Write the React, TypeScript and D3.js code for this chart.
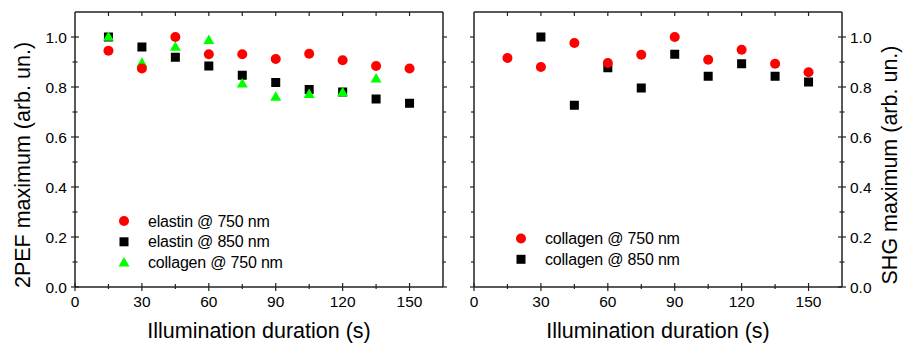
import * as d3 from "d3";

// Illumination time points (s)
const times = [15, 30, 45, 60, 75, 90, 105, 120, 135, 150];

// Left panel: 2PEF maximum
const elastin750 = [0.945, 0.874, 1.0, 0.931, 0.931, 0.912, 0.933, 0.907, 0.884, 0.874];
const elastin850 = [1.0, 0.96, 0.919, 0.884, 0.847, 0.818, 0.79, 0.78, 0.752, 0.735];
const collagen750Pef = [1.0, 0.896, 0.96, 0.987, 0.813, 0.76, 0.771, 0.778, 0.833, null];

// Right panel: SHG maximum
const collagen750Shg = [0.916, 0.88, 0.976, 0.896, 0.929, 1.0, 0.909, 0.949, 0.893, 0.859];
const collagen850Shg = [null, 1.0, 0.727, 0.877, 0.796, 0.931, 0.843, 0.893, 0.843, 0.82];

const xMajor = [0, 30, 60, 90, 120, 150];
const xMinor = [15, 45, 75, 105, 135];
const yMajor = [0, 0.2, 0.4, 0.6, 0.8, 1.0];
const yMinor = [0.1, 0.3, 0.5, 0.7, 0.9];

const W = 903;
const H = 344;
const TOP = 12;
const BOTTOM = 287;
const PANELS = [
  { left: 75, right: 443 },
  { left: 474, right: 842 },
];

const FONT = "'Liberation Sans', Arial, Helvetica, sans-serif";
const AXIS = "#222";

type Pt = { t: number; v: number };
const pts = (vals: (number | null)[]): Pt[] =>
  vals.flatMap((v, i) => (v == null ? [] : [{ t: times[i], v }]));

function Marker({ kind, x, y }: { kind: string; x: number; y: number }) {
  if (kind === "circle") return <circle cx={x} cy={y} r={5} fill="#ff0000" />;
  if (kind === "square") return <rect x={x - 4.5} y={y - 4.5} width={9} height={9} fill="#000" />;
  const s = 11;
  const h = 9.5;
  return (
    <path
      d={`M${x},${y - h * 0.6} L${x + s / 2},${y + h * 0.4} L${x - s / 2},${y + h * 0.4} Z`}
      fill="#00ff00"
    />
  );
}

function Panel({
  left,
  right,
  series,
  legend,
  legendX,
  legendY,
  side,
  title,
}: {
  left: number;
  right: number;
  series: { kind: string; data: Pt[] }[];
  legend: { kind: string; label: string }[];
  legendX: number;
  legendY: number;
  side: "left" | "right";
  title: string;
}) {
  const x = d3.scaleLinear().domain([0, 165]).range([left, right]);
  const y = d3.scaleLinear().domain([0, 1.1]).range([BOTTOM, TOP]);
  const labelAxis = side === "left" ? left : right;
  const plainAxis = side === "left" ? right : left;
  const dir = side === "left" ? -1 : 1; // outward direction of labelled axis

  return (
    <g>
      {/* frame */}
      <line x1={left} x2={right} y1={BOTTOM} y2={BOTTOM} stroke={AXIS} strokeWidth={1.3} />
      <line x1={left} x2={right} y1={TOP} y2={TOP} stroke={AXIS} strokeWidth={1.3} />
      <line x1={left} x2={left} y1={TOP} y2={BOTTOM} stroke={AXIS} strokeWidth={1.5} />
      <line x1={right} x2={right} y1={TOP} y2={BOTTOM} stroke={AXIS} strokeWidth={1.5} />

      {/* bottom ticks */}
      {xMajor.map((t) => (
        <g key={`bx${t}`}>
          <line x1={x(t)} x2={x(t)} y1={BOTTOM - 4} y2={BOTTOM + 4} stroke={AXIS} strokeWidth={1.2} />
          <text x={x(t)} y={BOTTOM + 20} textAnchor="middle" fontSize={15.5} fontFamily={FONT}>
            {t}
          </text>
        </g>
      ))}
      {xMinor.map((t) => (
        <line key={`bm${t}`} x1={x(t)} x2={x(t)} y1={BOTTOM - 3} y2={BOTTOM + 2} stroke={AXIS} strokeWidth={1.2} />
      ))}
      {/* top ticks */}
      {[...xMajor.slice(1), ...xMinor].map((t) => (
        <line key={`tx${t}`} x1={x(t)} x2={x(t)} y1={TOP} y2={TOP + 4} stroke={AXIS} strokeWidth={1.2} />
      ))}

      {/* labelled y axis */}
      {yMajor.map((v) => (
        <g key={`ly${v}`}>
          <line x1={labelAxis - 4} x2={labelAxis + 4} y1={y(v)} y2={y(v)} stroke={AXIS} strokeWidth={1.2} />
          <text
            x={labelAxis + dir * 8}
            y={y(v) + 5.5}
            textAnchor={side === "left" ? "end" : "start"}
            fontSize={15.5}
            fontFamily={FONT}
          >
            {d3.format(".1f")(v)}
          </text>
        </g>
      ))}
      {yMinor.map((v) => (
        <line key={`lm${v}`} x1={labelAxis - 2.5} x2={labelAxis + 2.5} y1={y(v)} y2={y(v)} stroke={AXIS} strokeWidth={1.2} />
      ))}
      {/* plain y axis, inward ticks */}
      {[...yMajor, ...yMinor].map((v) => (
        <line
          key={`py${v}`}
          x1={plainAxis}
          x2={plainAxis - dir * (yMajor.includes(v) ? 4 : 3)}
          y1={y(v)}
          y2={y(v)}
          stroke={AXIS}
          strokeWidth={1.2}
        />
      ))}

      {/* points */}
      {series.map((s, i) => (
        <g key={i}>
          {s.data.map((d) => (
            <Marker key={d.t} kind={s.kind} x={x(d.t)} y={y(d.v)} />
          ))}
        </g>
      ))}

      {/* legend */}
      {legend.map((l, i) => (
        <g key={l.label}>
          <Marker kind={l.kind} x={legendX} y={legendY + i * 20.8} />
          <text x={legendX + 24} y={legendY + i * 20.8 + 5.5} fontSize={16} fontFamily={FONT} letterSpacing={-0.2}>
            {l.label}
          </text>
        </g>
      ))}

      {/* axis titles */}
      <text
        x={(left + right) / 2}
        y={338}
        textAnchor="middle"
        fontSize={21.5}
        fontFamily={FONT}
      >
        Illumination duration (s)
      </text>
      <text
        transform={`translate(${side === "left" ? 30 : 897},${165}) rotate(-90)`}
        textAnchor="middle"
        fontSize={21.5}
        fontFamily={FONT}
      >
        {title}
      </text>
    </g>
  );
}

export default function App() {
  return (
    <svg
      width={W}
      height={H}
      viewBox={`0 0 ${W} ${H}`}
      style={{ position: "absolute", left: 0, top: 0, background: "#fff" }}
    >
      <rect width={W} height={H} fill="#fff" />
      <Panel
        {...PANELS[0]}
        side="left"
        title="2PEF maximum (arb. un.)"
        series={[
          { kind: "square", data: pts(elastin850) },
          { kind: "triangle", data: pts(collagen750Pef) },
          { kind: "circle", data: pts(elastin750) },
        ]}
        legend={[
          { kind: "circle", label: "elastin @ 750 nm" },
          { kind: "square", label: "elastin @ 850 nm" },
          { kind: "triangle", label: "collagen @ 750 nm" },
        ]}
        legendX={124}
        legendY={221}
      />
      <Panel
        {...PANELS[1]}
        side="right"
        title="SHG maximum (arb. un.)"
        series={[
          { kind: "square", data: pts(collagen850Shg) },
          { kind: "circle", data: pts(collagen750Shg) },
        ]}
        legend={[
          { kind: "circle", label: "collagen @ 750 nm" },
          { kind: "square", label: "collagen @ 850 nm" },
        ]}
        legendX={521}
        legendY={238.5}
      />
    </svg>
  );
}
